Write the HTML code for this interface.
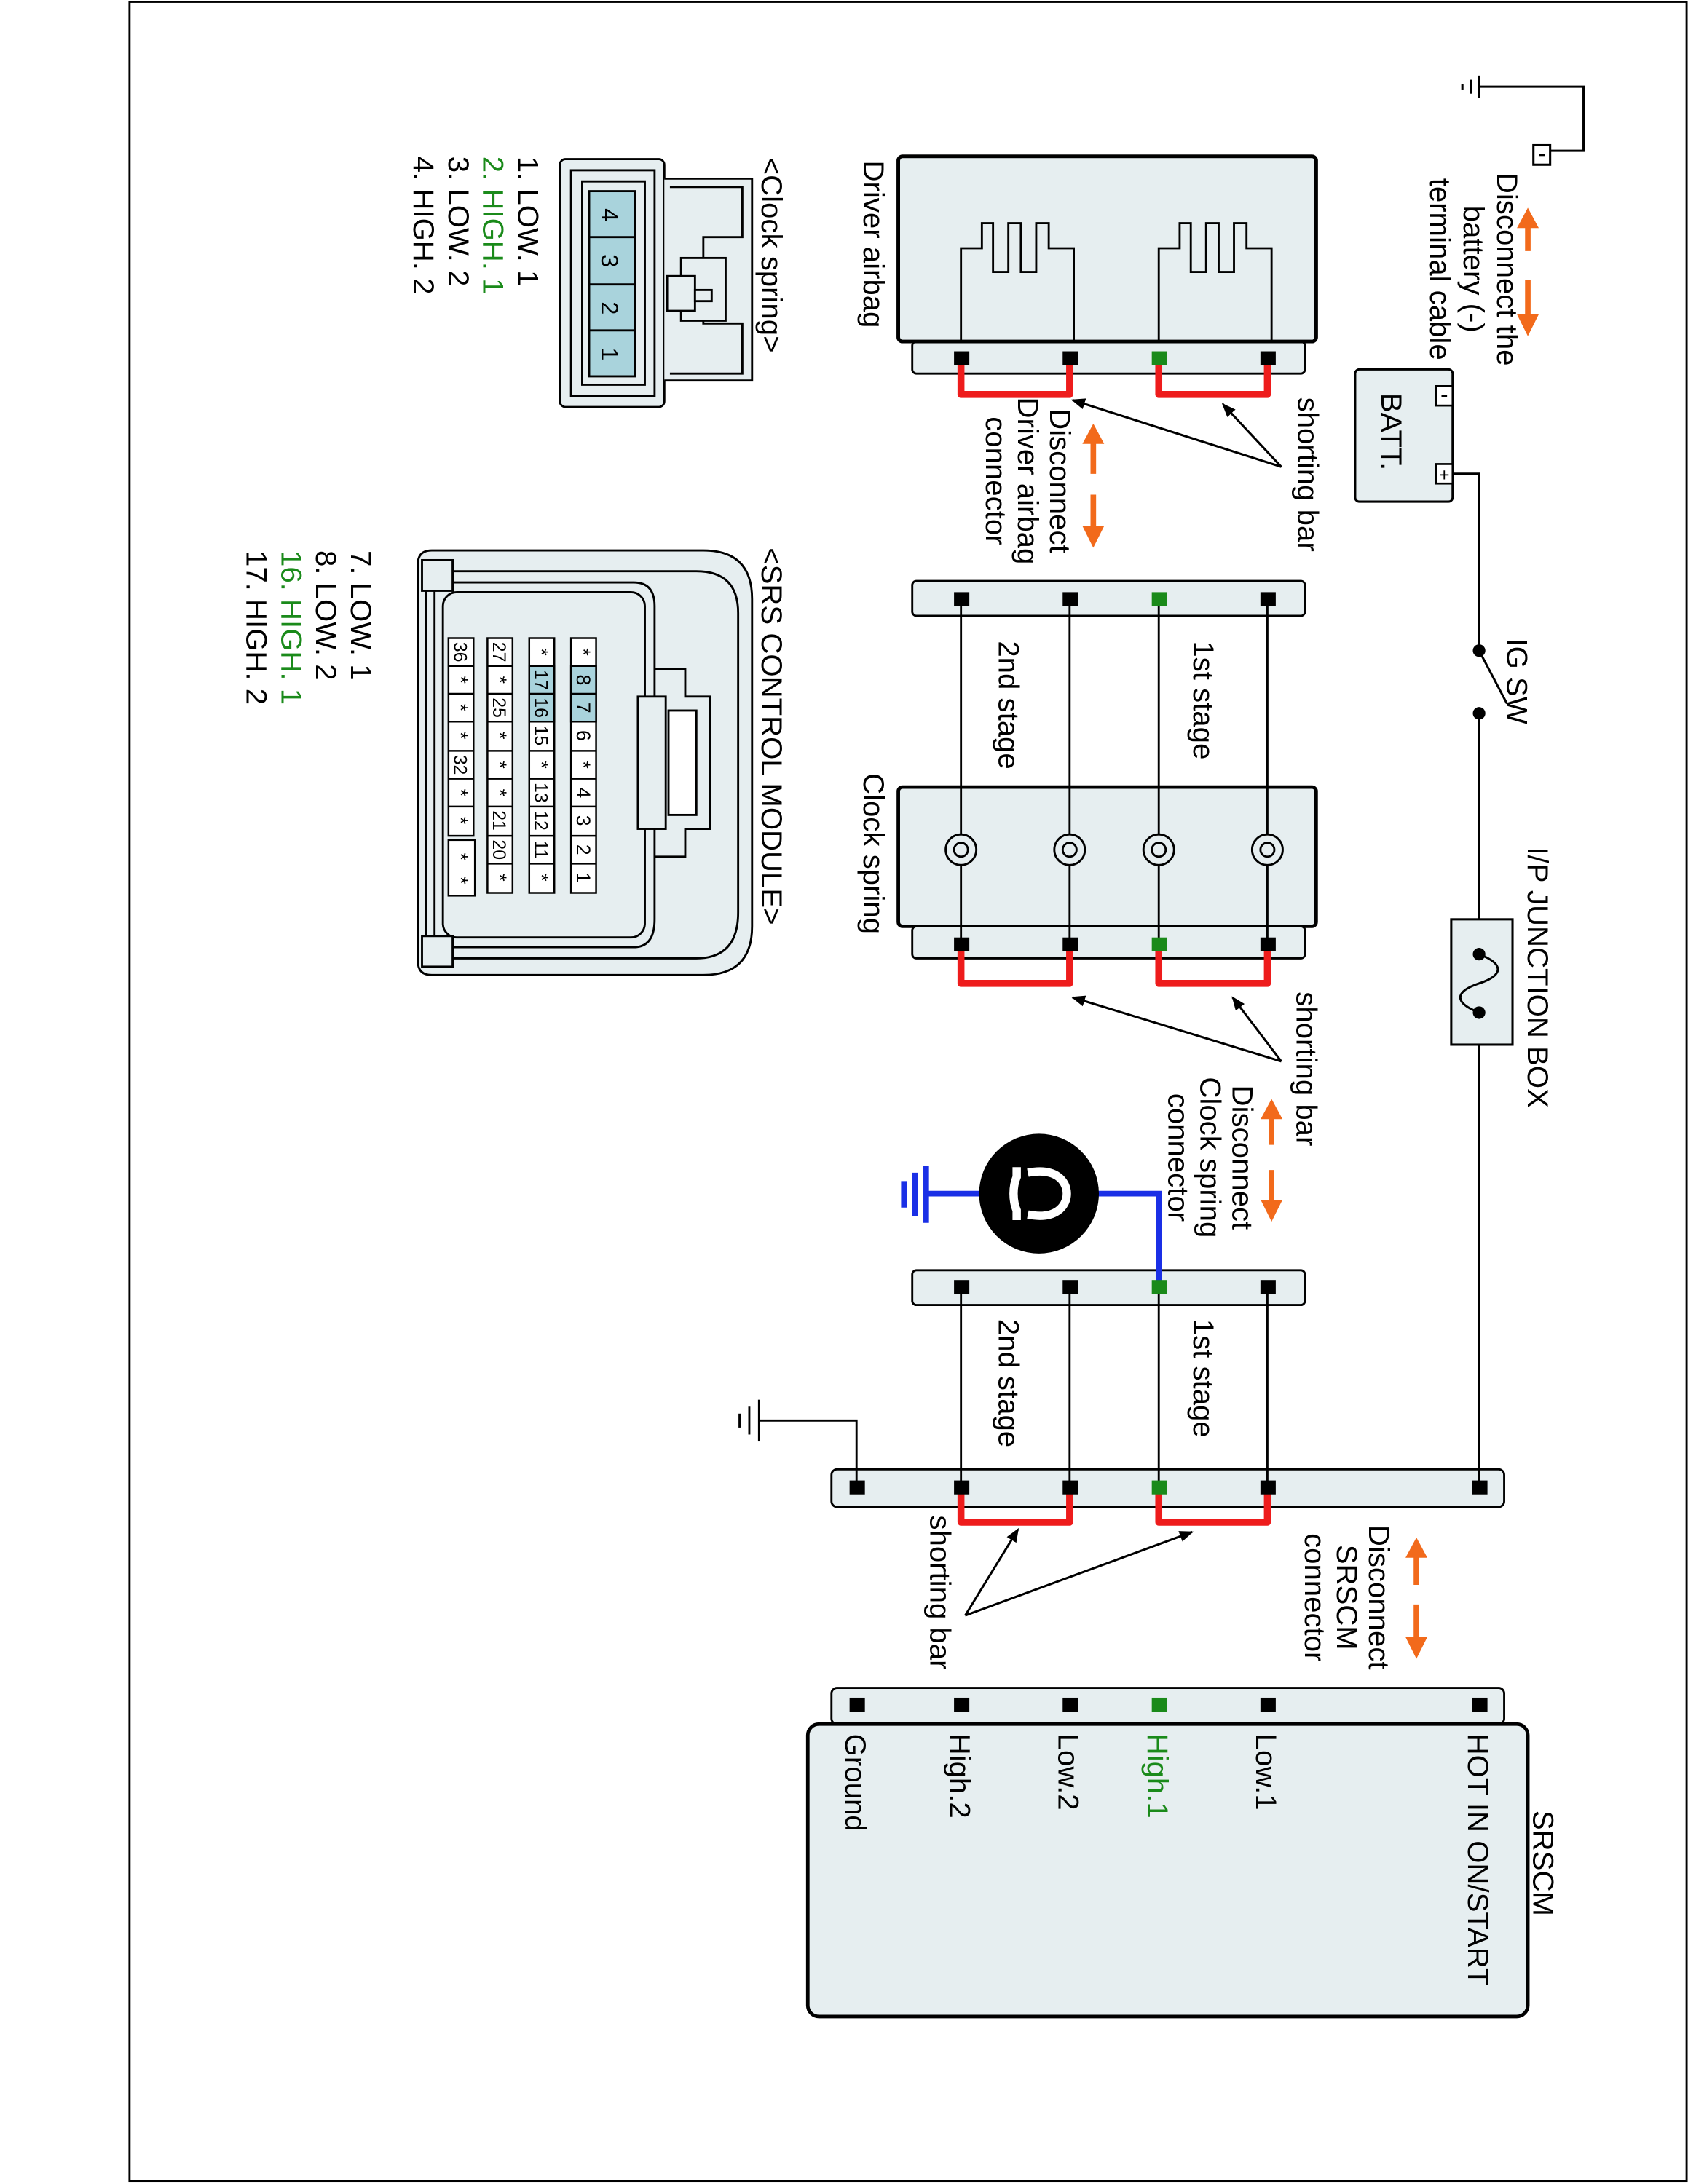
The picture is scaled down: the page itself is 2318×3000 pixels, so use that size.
<!DOCTYPE html>
<html><head><meta charset="utf-8"><style>
html,body{margin:0;padding:0;background:#fff}
svg{display:block}
text{font-family:"Liberation Sans",Arial,sans-serif;font-size:21px;fill:#000}
</style></head><body>
<svg width="2318" height="3000" viewBox="0 0 1212 1568" xmlns="http://www.w3.org/2000/svg">
<defs>
<marker id="ah" markerWidth="10" markerHeight="8" refX="9" refY="4" orient="auto" markerUnits="userSpaceOnUse"><path d="M0,0 L10,4 L0,8 z" fill="#000"/></marker>
</defs>
<rect x="93" y="1" width="1118" height="1565" fill="none" stroke="#000" stroke-width="1.5"/>

<g stroke="#000" stroke-width="1.6" fill="none">
<path d="M1062,62 H1137 V108 H1113"/>
<line x1="1062" y1="54" x2="1062" y2="70"/><line x1="1056" y1="57" x2="1056" y2="67"/><line x1="1050" y1="60" x2="1050" y2="64"/>
<rect x="1101" y="104" width="12" height="14" fill="#fff"/>
</g>
<line x1="1105" y1="111" x2="1109" y2="111" stroke="#000" stroke-width="1.5"/>
<g fill="#f26a1b" stroke="#f26a1b">
<path d="M1097,150 L1090,163 L1104,163 Z"/><line x1="1097" y1="160" x2="1097" y2="180" stroke-width="4"/>
<line x1="1097" y1="201" x2="1097" y2="226" stroke-width="4"/><path d="M1097,240 L1090,226 L1104,226 Z"/>
<path d="M785,305 L778,318 L792,318 Z"/><line x1="785" y1="315" x2="785" y2="340" stroke-width="4"/>
<line x1="785" y1="355" x2="785" y2="378" stroke-width="4"/><path d="M785,392 L778,378 L792,378 Z"/>
<path d="M913,790 L906,803 L920,803 Z"/><line x1="913" y1="800" x2="913" y2="822" stroke-width="4"/>
<line x1="913" y1="840" x2="913" y2="862" stroke-width="4"/><path d="M913,876 L906,862 L920,862 Z"/>
<path d="M1017,1105 L1010,1118 L1024,1118 Z"/><line x1="1017" y1="1115" x2="1017" y2="1138" stroke-width="4"/>
<line x1="1017" y1="1152" x2="1017" y2="1176" stroke-width="4"/><path d="M1017,1190 L1010,1176 L1024,1176 Z"/>
</g>
<g transform="translate(1075,122) rotate(90)"><text x="71" y="0" text-anchor="middle">Disconnect the</text></g>
<g transform="translate(1051,122) rotate(90)"><text x="71" y="0" text-anchor="middle">battery (-)</text></g>
<g transform="translate(1027,122) rotate(90)"><text x="71" y="0" text-anchor="middle">terminal cable</text></g>

<rect x="973" y="265" width="70" height="95" rx="3" fill="#e6eef0" stroke="#000" stroke-width="1.6"/>
<rect x="1031" y="277" width="12" height="14" fill="#fff" stroke="#000" stroke-width="1.4"/>
<line x1="1035" y1="284" x2="1039" y2="284" stroke="#000" stroke-width="1.5"/>
<rect x="1031" y="333" width="12" height="14" fill="#fff" stroke="#000" stroke-width="1.4"/>
<text x="1037" y="345" text-anchor="middle" style="font-size:13px">+</text>
<g transform="translate(992,282) rotate(90)"><text>BATT.</text></g>

<g stroke="#000" stroke-width="1.6" fill="none">
<path d="M1043,340 H1062 V467"/>
<line x1="1062" y1="467" x2="1082" y2="505"/>
<line x1="1062" y1="512" x2="1062" y2="685"/>
<line x1="1062" y1="727" x2="1062" y2="1068"/>
</g>
<circle cx="1062" cy="467" r="4.5" fill="#000"/><circle cx="1062" cy="512" r="4.5" fill="#000"/>
<g transform="translate(1082,458) rotate(90)"><text>IG SW</text></g>
<rect x="1042" y="660" width="44" height="90" fill="#e6eef0" stroke="#000" stroke-width="1.6"/>
<path d="M1062,685 C1080,692 1080,700 1062,706 C1044,712 1044,720 1062,727" fill="none" stroke="#000" stroke-width="1.6"/>
<circle cx="1062" cy="685" r="4.5" fill="#000"/><circle cx="1062" cy="727" r="4.5" fill="#000"/>
<g transform="translate(1097,608) rotate(90)"><text>I/P JUNCTION BOX</text></g>

<rect x="645" y="112" width="300" height="133" rx="3" fill="#e6eef0" stroke="#000" stroke-width="2.5"/>
<rect x="655" y="245" width="282" height="23" rx="3" fill="#e6eef0" stroke="#000" stroke-width="1.5"/>
<g fill="none" stroke="#000" stroke-width="1.5">
<path d="M690,245 V178 H705 V160 H713 V195 H724 V160 H733 V195 H744 V160 H753 V178 H771 V245"/>
<path d="M832,245 V178 H847 V160 H855 V195 H866 V160 H875 V195 H886 V160 H895 V178 H913 V245"/>
</g>
<rect x="645" y="112" width="300" height="133" rx="3" fill="none" stroke="#000" stroke-width="2.5"/>
<g transform="translate(620,115) rotate(90)"><text>Driver airbag</text></g>

<rect x="645" y="565" width="300" height="100" rx="3" fill="#e6eef0" stroke="#000" stroke-width="2.5"/>
<rect x="655" y="665" width="282" height="23" rx="3" fill="#e6eef0" stroke="#000" stroke-width="1.5"/>
<g transform="translate(620,555) rotate(90)"><text>Clock spring</text></g>

<g stroke="#000" stroke-width="1.5">
<line x1="690" y1="430" x2="690" y2="680"/>
<line x1="768" y1="430" x2="768" y2="680"/>
<line x1="832" y1="430" x2="832" y2="680"/>
<line x1="910" y1="430" x2="910" y2="680"/>
<line x1="690" y1="924" x2="690" y2="1068"/>
<line x1="768" y1="924" x2="768" y2="1068"/>
<line x1="832" y1="924" x2="832" y2="1068"/>
<line x1="910" y1="924" x2="910" y2="1068"/>
<path d="M615,1068 V1020 H545" fill="none"/>
<line x1="545" y1="1005" x2="545" y2="1035"/><line x1="538" y1="1010" x2="538" y2="1030"/><line x1="531" y1="1015" x2="531" y2="1025"/>
</g>
<g fill="#e6eef0" stroke="#000" stroke-width="1.5">
<circle cx="690" cy="610" r="11"/><circle cx="690" cy="610" r="5"/>
<circle cx="768" cy="610" r="11"/><circle cx="768" cy="610" r="5"/>
<circle cx="832" cy="610" r="11"/><circle cx="832" cy="610" r="5"/>
<circle cx="910" cy="610" r="11"/><circle cx="910" cy="610" r="5"/>
</g>

<rect x="655" y="417" width="282" height="25" rx="3" fill="#e6eef0" stroke="#000" stroke-width="1.5"/>
<rect x="655" y="912" width="282" height="25" rx="3" fill="#e6eef0" stroke="#000" stroke-width="1.5"/>
<rect x="597" y="1055" width="483" height="27" rx="4" fill="#e6eef0" stroke="#000" stroke-width="1.5"/>
<rect x="597" y="1212" width="483" height="26" rx="4" fill="#e6eef0" stroke="#000" stroke-width="1.5"/>
<g stroke="#000" stroke-width="1.5">
<line x1="690" y1="430" x2="690" y2="442"/><line x1="768" y1="430" x2="768" y2="442"/><line x1="832" y1="430" x2="832" y2="442"/><line x1="910" y1="430" x2="910" y2="442"/>
<line x1="690" y1="924" x2="690" y2="937"/><line x1="768" y1="924" x2="768" y2="937"/><line x1="832" y1="924" x2="832" y2="937"/><line x1="910" y1="924" x2="910" y2="937"/>
<line x1="690" y1="1055" x2="690" y2="1068"/><line x1="768" y1="1055" x2="768" y2="1068"/><line x1="832" y1="1055" x2="832" y2="1068"/><line x1="910" y1="1055" x2="910" y2="1068"/><line x1="615" y1="1055" x2="615" y2="1068"/><line x1="1062" y1="1055" x2="1062" y2="1068"/>
</g>

<g fill="none" stroke="#ee1c1c" stroke-width="5" stroke-linejoin="round">
<path d="M690,262 V283 H768 V262"/><path d="M832,262 V283 H910 V262"/>
<path d="M690,682 V706 H768 V682"/><path d="M832,682 V706 H910 V682"/>
<path d="M690,1072 V1093 H768 V1072"/><path d="M832,1072 V1093 H910 V1072"/>
</g>

<g stroke="#1a2fe6" stroke-width="4" fill="none">
<path d="M832,920 V857 H785"/><line x1="705" y1="857" x2="665" y2="857"/>
<line x1="665" y1="837" x2="665" y2="878"/><line x1="657" y1="842" x2="657" y2="873"/><line x1="649" y1="848" x2="649" y2="867"/>
</g>
<ellipse cx="746" cy="857" rx="43" ry="43" fill="#000"/>
<path d="M730,838 V845 C727,852 727,862 730,869 V876 M738,842 C758,838 766,848 766,857 C766,866 758,876 738,872" fill="none" stroke="#fff" stroke-width="6"/>

<g fill="#000">
<rect x="685" y="252" width="11" height="10"/><rect x="763" y="252" width="11" height="10"/><rect x="905" y="252" width="11" height="10"/>
<rect x="685" y="425" width="11" height="10"/><rect x="763" y="425" width="11" height="10"/><rect x="905" y="425" width="11" height="10"/>
<rect x="685" y="673" width="11" height="10"/><rect x="763" y="673" width="11" height="10"/><rect x="905" y="673" width="11" height="10"/>
<rect x="685" y="919" width="11" height="10"/><rect x="763" y="919" width="11" height="10"/><rect x="905" y="919" width="11" height="10"/>
<rect x="610" y="1063" width="11" height="10"/><rect x="685" y="1063" width="11" height="10"/><rect x="763" y="1063" width="11" height="10"/><rect x="905" y="1063" width="11" height="10"/><rect x="1057" y="1063" width="11" height="10"/>
<rect x="610" y="1219" width="11" height="10"/><rect x="685" y="1219" width="11" height="10"/><rect x="763" y="1219" width="11" height="10"/><rect x="905" y="1219" width="11" height="10"/><rect x="1057" y="1219" width="11" height="10"/>
</g>
<g fill="#1a8a1a">
<rect x="827" y="252" width="11" height="10"/><rect x="827" y="425" width="11" height="10"/><rect x="827" y="673" width="11" height="10"/><rect x="827" y="919" width="11" height="10"/><rect x="827" y="1063" width="11" height="10"/><rect x="827" y="1219" width="11" height="10"/>
</g>

<g transform="translate(932,285) rotate(90)"><text>shorting bar</text></g>
<g stroke="#000" stroke-width="1.6">
<line x1="920" y1="335" x2="878" y2="290" marker-end="url(#ah)"/>
<line x1="920" y1="335" x2="770" y2="287" marker-end="url(#ah)"/>
<line x1="920" y1="762" x2="885" y2="716" marker-end="url(#ah)"/>
<line x1="920" y1="762" x2="770" y2="716" marker-end="url(#ah)"/>
<line x1="693" y1="1160" x2="731" y2="1098" marker-end="url(#ah)"/>
<line x1="693" y1="1160" x2="856" y2="1100" marker-end="url(#ah)"/>
</g>
<g transform="translate(754,290) rotate(90)"><text x="55" text-anchor="middle">Disconnect</text></g>
<g transform="translate(731,290) rotate(90)"><text x="55" text-anchor="middle">Driver airbag</text></g>
<g transform="translate(708,290) rotate(90)"><text x="55" text-anchor="middle">connector</text></g>
<g transform="translate(857,460) rotate(90)"><text>1st stage</text></g>
<g transform="translate(717,460) rotate(90)"><text>2nd stage</text></g>
<g transform="translate(857,947) rotate(90)"><text>1st stage</text></g>
<g transform="translate(717,947) rotate(90)"><text>2nd stage</text></g>
<g transform="translate(931,712) rotate(90)"><text>shorting bar</text></g>
<g transform="translate(885,778) rotate(90)"><text x="53" text-anchor="middle">Disconnect</text></g>
<g transform="translate(862,778) rotate(90)"><text x="53" text-anchor="middle">Clock spring</text></g>
<g transform="translate(839,778) rotate(90)"><text x="53" text-anchor="middle">connector</text></g>
<g transform="translate(983,1092) rotate(90)"><text x="55" text-anchor="middle">Disconnect</text></g>
<g transform="translate(960,1092) rotate(90)"><text x="55" text-anchor="middle">SRSCM</text></g>
<g transform="translate(937,1092) rotate(90)"><text x="55" text-anchor="middle">connector</text></g>
<g transform="translate(668,1088) rotate(90)"><text>shorting bar</text></g>

<rect x="580" y="1238" width="517" height="210" rx="8" fill="#e6eef0" stroke="#000" stroke-width="2.5"/>
<g transform="translate(1101,1300) rotate(90)"><text>SRSCM</text></g>
<g transform="translate(1054,1245) rotate(90)"><text>HOT IN ON/START</text></g>
<g transform="translate(902,1245) rotate(90)"><text>Low.1</text></g>
<g transform="translate(824,1245) rotate(90)"><text style="fill:#1a8a1a">High.1</text></g>
<g transform="translate(760,1245) rotate(90)"><text>Low.2</text></g>
<g transform="translate(682,1245) rotate(90)"><text>High.2</text></g>
<g transform="translate(607,1245) rotate(90)"><text>Ground</text></g>

<g stroke="#000" stroke-width="1.5">
<rect x="402" y="114" width="75" height="178" rx="4" fill="#e6eef0"/>
<rect x="410" y="122" width="60" height="162" fill="#e6eef0"/>
<rect x="418" y="130" width="45" height="146" fill="#e6eef0"/>
<rect x="423" y="137" width="33" height="133" fill="#a9d3dc"/>
<line x1="423" y1="170" x2="456" y2="170"/><line x1="423" y1="204" x2="456" y2="204"/><line x1="423" y1="237" x2="456" y2="237"/>
<path d="M477,128 H540 V273 H477" fill="#e6eef0"/>
<path d="M481,134 H533 V170 H505 V232 H533 V268 H481" fill="none"/>
<rect x="489" y="185" width="32" height="45" fill="#e6eef0"/>
<rect x="479" y="198" width="20" height="25" fill="#e6eef0"/>
<rect x="499" y="208" width="12" height="8" fill="#e6eef0"/>
</g>
<g transform="translate(432,154) rotate(90)"><text text-anchor="middle" style="font-size:17px">4</text></g>
<g transform="translate(432,187) rotate(90)"><text text-anchor="middle" style="font-size:17px">3</text></g>
<g transform="translate(432,221) rotate(90)"><text text-anchor="middle" style="font-size:17px">2</text></g>
<g transform="translate(432,254) rotate(90)"><text text-anchor="middle" style="font-size:17px">1</text></g>
<g transform="translate(547,113) rotate(90)"><text>&lt;Clock spring&gt;</text></g>
<g transform="translate(372,112) rotate(90)"><text>1. LOW. 1</text></g>
<g transform="translate(347,112) rotate(90)"><text style="fill:#1a8a1a">2. HIGH. 1</text></g>
<g transform="translate(322,112) rotate(90)"><text>3. LOW. 2</text></g>
<g transform="translate(297,112) rotate(90)"><text>4. HIGH. 2</text></g>

<g stroke="#000" stroke-width="1.5" fill="#e6eef0">
<path d="M300,405 Q300,395 310,395 H505 Q540,395 540,430 V665 Q540,700 505,700 H310 Q300,700 300,690 Z"/>
<path d="M306,410 H500 Q530,410 530,440 V655 Q530,688 500,688 H306 Z"/>
<path d="M312,418 H455 Q470,418 470,435 V660 Q470,680 455,680 H312 Z"/>
<rect x="318" y="425" width="145" height="248" rx="10"/>
<rect x="303" y="402" width="22" height="22"/>
<rect x="303" y="672" width="22" height="22"/>
<path d="M470,480 H492 V500 H510 V595 H492 V615 H470" fill="none"/>
<rect x="458" y="500" width="20" height="95"/>
<rect x="480" y="510" width="20" height="75" fill="#fff"/>
</g>
<g stroke="#000" stroke-width="1.3" fill="#fff">
<rect x="410" y="458" width="18" height="183"/>
<rect x="380" y="458" width="18" height="183"/>
<rect x="350" y="458" width="18" height="183"/>
<rect x="322" y="458" width="18" height="142"/>
<rect x="322" y="603" width="19" height="40"/>
<rect x="410" y="478" width="18" height="40" fill="#a9d3dc"/>
<rect x="380" y="478" width="18" height="40" fill="#a9d3dc"/>
<path d="M410,478H428M410,498H428M410,518H428M410,539H428M410,559H428M410,579H428M410,600H428M410,620H428"/>
<path d="M380,478H398M380,498H398M380,518H398M380,539H398M380,559H398M380,579H398M380,600H398M380,620H398"/>
<path d="M350,478H368M350,498H368M350,518H368M350,539H368M350,559H368M350,579H368M350,600H368M350,620H368"/>
<path d="M322,478H340M322,498H340M322,518H340M322,539H340M322,559H340M322,579H340"/>
</g>
<g>
<g transform="translate(414,468) rotate(90)"><text text-anchor="middle" style="font-size:14px">*</text></g>
<g transform="translate(414,488) rotate(90)"><text text-anchor="middle" style="font-size:14px">8</text></g>
<g transform="translate(414,508) rotate(90)"><text text-anchor="middle" style="font-size:14px">7</text></g>
<g transform="translate(414,528) rotate(90)"><text text-anchor="middle" style="font-size:14px">6</text></g>
<g transform="translate(414,549) rotate(90)"><text text-anchor="middle" style="font-size:14px">*</text></g>
<g transform="translate(414,569) rotate(90)"><text text-anchor="middle" style="font-size:14px">4</text></g>
<g transform="translate(414,589) rotate(90)"><text text-anchor="middle" style="font-size:14px">3</text></g>
<g transform="translate(414,610) rotate(90)"><text text-anchor="middle" style="font-size:14px">2</text></g>
<g transform="translate(414,630) rotate(90)"><text text-anchor="middle" style="font-size:14px">1</text></g>
<g transform="translate(384,468) rotate(90)"><text text-anchor="middle" style="font-size:14px">*</text></g>
<g transform="translate(384,488) rotate(90)"><text text-anchor="middle" style="font-size:13px">17</text></g>
<g transform="translate(384,508) rotate(90)"><text text-anchor="middle" style="font-size:13px">16</text></g>
<g transform="translate(384,528) rotate(90)"><text text-anchor="middle" style="font-size:13px">15</text></g>
<g transform="translate(384,549) rotate(90)"><text text-anchor="middle" style="font-size:14px">*</text></g>
<g transform="translate(384,569) rotate(90)"><text text-anchor="middle" style="font-size:13px">13</text></g>
<g transform="translate(384,589) rotate(90)"><text text-anchor="middle" style="font-size:13px">12</text></g>
<g transform="translate(384,610) rotate(90)"><text text-anchor="middle" style="font-size:13px">11</text></g>
<g transform="translate(384,630) rotate(90)"><text text-anchor="middle" style="font-size:14px">*</text></g>
<g transform="translate(354,468) rotate(90)"><text text-anchor="middle" style="font-size:13px">27</text></g>
<g transform="translate(354,488) rotate(90)"><text text-anchor="middle" style="font-size:14px">*</text></g>
<g transform="translate(354,508) rotate(90)"><text text-anchor="middle" style="font-size:13px">25</text></g>
<g transform="translate(354,528) rotate(90)"><text text-anchor="middle" style="font-size:14px">*</text></g>
<g transform="translate(354,549) rotate(90)"><text text-anchor="middle" style="font-size:14px">*</text></g>
<g transform="translate(354,569) rotate(90)"><text text-anchor="middle" style="font-size:14px">*</text></g>
<g transform="translate(354,589) rotate(90)"><text text-anchor="middle" style="font-size:13px">21</text></g>
<g transform="translate(354,610) rotate(90)"><text text-anchor="middle" style="font-size:13px">20</text></g>
<g transform="translate(354,630) rotate(90)"><text text-anchor="middle" style="font-size:14px">*</text></g>
<g transform="translate(326,468) rotate(90)"><text text-anchor="middle" style="font-size:13px">36</text></g>
<g transform="translate(326,488) rotate(90)"><text text-anchor="middle" style="font-size:14px">*</text></g>
<g transform="translate(326,508) rotate(90)"><text text-anchor="middle" style="font-size:14px">*</text></g>
<g transform="translate(326,528) rotate(90)"><text text-anchor="middle" style="font-size:14px">*</text></g>
<g transform="translate(326,549) rotate(90)"><text text-anchor="middle" style="font-size:13px">32</text></g>
<g transform="translate(326,569) rotate(90)"><text text-anchor="middle" style="font-size:14px">*</text></g>
<g transform="translate(326,589) rotate(90)"><text text-anchor="middle" style="font-size:14px">*</text></g>
<g transform="translate(326,615) rotate(90)"><text text-anchor="middle" style="font-size:14px">*</text></g>
<g transform="translate(326,632) rotate(90)"><text text-anchor="middle" style="font-size:14px">*</text></g>
</g>
<g transform="translate(547,393) rotate(90)"><text>&lt;SRS CONTROL MODULE&gt;</text></g>
<g transform="translate(252,395) rotate(90)"><text>7. LOW. 1</text></g>
<g transform="translate(227,395) rotate(90)"><text>8. LOW. 2</text></g>
<g transform="translate(202,395) rotate(90)"><text style="fill:#1a8a1a">16. HIGH. 1</text></g>
<g transform="translate(177,395) rotate(90)"><text>17. HIGH. 2</text></g>
</svg>
</body></html>
